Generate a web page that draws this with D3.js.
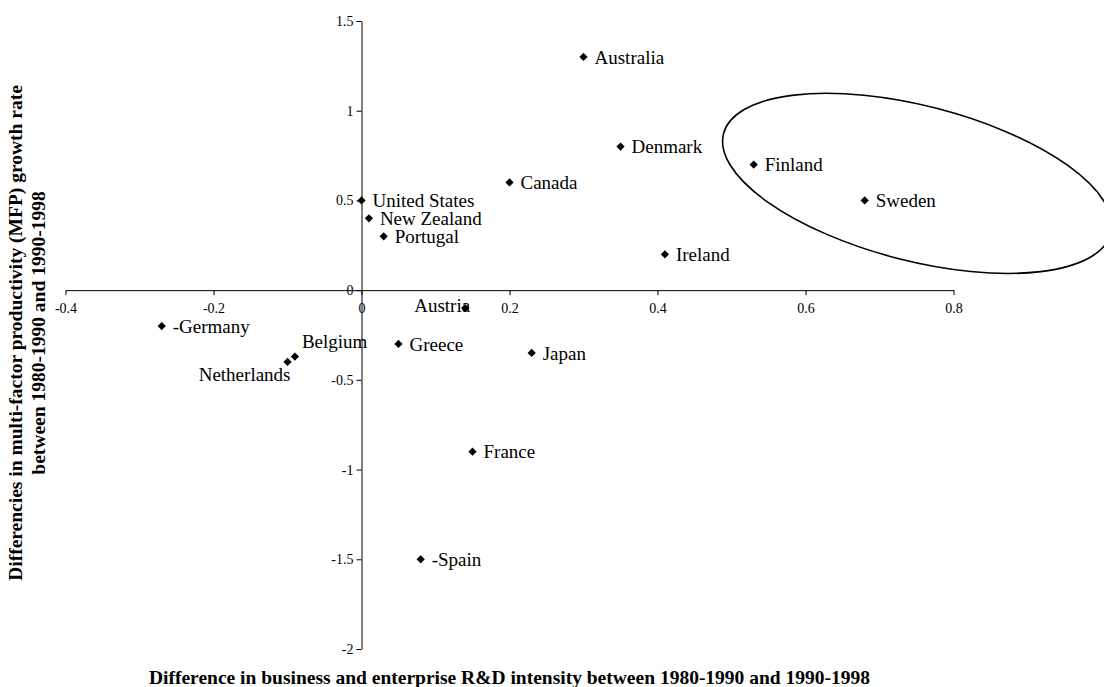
<!DOCTYPE html>
<html>
<head>
<meta charset="utf-8">
<script src="https://cdn.jsdelivr.net/npm/d3@7/dist/d3.min.js"></script>
<style>
  html, body { margin: 0; padding: 0; background: #fff; }
  svg { display: block; }
  text { font-family: "Liberation Serif", "Times New Roman", serif; fill: #000; }
</style>
</head>
<body>
<svg id="chart" width="1104" height="687"></svg>
<script>
// ---- Data ----
const countries = ["Australia","Denmark","Canada","United States","New Zealand","Portugal",
  "Finland","Sweden","Ireland","Austria","Greece","Japan","France","Spain","Germany","Belgium","Netherlands"];
const rdDiff  = [0.30, 0.35, 0.20, 0.00, 0.01, 0.03, 0.53, 0.68, 0.41, 0.14, 0.05, 0.23, 0.15, 0.08, -0.27, -0.09, -0.10];
const mfpDiff = [1.30, 0.80, 0.60, 0.50, 0.40, 0.30, 0.70, 0.50, 0.20, -0.10, -0.30, -0.35, -0.90, -1.50, -0.20, -0.37, -0.40];
const pointLabels = ["Australia","Denmark","Canada","United States","New Zealand","Portugal",
  "Finland","Sweden","Ireland","Austria","Greece","Japan","France","-Spain","-Germany","Belgium","Netherlands"];
const xTicks = [-0.4, -0.2, 0, 0.2, 0.4, 0.6, 0.8];
const yTicks = [1.5, 1, 0.5, 0, -0.5, -1, -1.5, -2];
const xTitle = "Difference in business and enterprise R&D intensity between 1980-1990 and 1990-1998";
const yTitle = ["Differencies in multi-factor productivity (MFP) growth rate", "between 1980-1990 and 1990-1998"];
// highlighted group (Finland, Sweden) ellipse centre in data units
const ellipseCenter = [0.751, 0.595];

// ---- Layout ----
const svg = d3.select("#chart");
const x = d3.scaleLinear().domain([-0.4, 0.8]).range([65.5, 953.5]);
const y = d3.scaleLinear().domain([-2, 1.5]).range([649, 21]);
const x0 = x(0), y0 = y(0);
const serif = '"Liberation Serif", "Times New Roman", serif';
const fmt = d => String(+(+d).toFixed(1));

// special label placements (relative to marker)
const labelPlace = {
  "Netherlands": {dx: 3, dy: 12, anchor: "end"},
  "Belgium": {dx: 7, dy: -15, anchor: "start"},
  "Austria": {dx: 5, dy: -3, anchor: "end"}
};

// X axis at y=0
const xAxis = d3.axisBottom(x).tickValues(xTicks).tickSize(5).tickSizeOuter(0).tickFormat(fmt);
const gx = svg.append("g").attr("transform", `translate(0,${y0})`).call(xAxis)
  .attr("font-family", serif).attr("font-size", 14);
gx.select(".domain").attr("stroke", "#000").attr("stroke-width", 1);
gx.selectAll(".tick line").attr("stroke", "#000");
gx.selectAll(".tick text").style("font-family", serif).style("font-size", "14px").attr("dy", "1.05em").attr("fill", "#000");

// Y axis at x=0
const yAxis = d3.axisLeft(y).tickValues(yTicks).tickSize(5).tickSizeOuter(0).tickFormat(fmt);
const gy = svg.append("g").attr("transform", `translate(${x0},0)`).call(yAxis)
  .attr("font-family", serif).attr("font-size", 14);
gy.select(".domain").attr("stroke", "#000").attr("stroke-width", 1);
gy.selectAll(".tick line").attr("stroke", "#000");
gy.selectAll(".tick text").style("font-family", serif).style("font-size", "14px").attr("x", -8).attr("fill", "#000");

// Points
const pts = countries.map((c, i) => ({c, x: rdDiff[i], y: mfpDiff[i], label: pointLabels[i]}));
const diamond = d3.symbol().type(d3.symbolSquare).size(34);
svg.append("g").selectAll("path").data(pts).join("path")
  .attr("d", diamond)
  .attr("transform", d => `translate(${x(d.x)},${y(d.y)}) rotate(45)`)
  .attr("fill", "#000");

svg.append("g").selectAll("text").data(pts).join("text")
  .attr("x", d => x(d.x) + (labelPlace[d.c] ? labelPlace[d.c].dx : 11))
  .attr("y", d => y(d.y) + (labelPlace[d.c] ? labelPlace[d.c].dy : 0))
  .attr("dy", "0.35em")
  .attr("text-anchor", d => labelPlace[d.c] ? labelPlace[d.c].anchor : "start")
  .style("font-size", "19px")
  .text(d => d.label);

// Ellipse annotation
svg.append("ellipse")
  .attr("cx", 0).attr("cy", 0).attr("rx", 200).attr("ry", 77.5)
  .attr("transform", `translate(${x(ellipseCenter[0])},${y(ellipseCenter[1])}) rotate(14.4)`)
  .attr("fill", "none").attr("stroke", "#000").attr("stroke-width", 1.6);

// Axis titles
svg.append("text")
  .attr("x", 509.5).attr("y", 684)
  .attr("text-anchor", "middle").style("font-weight", "bold").style("font-size", "19.5px")
  .text(xTitle);

const yt = svg.append("text")
  .attr("transform", "translate(22,333) rotate(-90)")
  .attr("text-anchor", "middle").style("font-weight", "bold").style("font-size", "19.5px");
yt.append("tspan").attr("x", 0).attr("y", 0).text(yTitle[0]);
yt.append("tspan").attr("x", 0).attr("y", 23).text(yTitle[1]);
</script>
</body>
</html>
